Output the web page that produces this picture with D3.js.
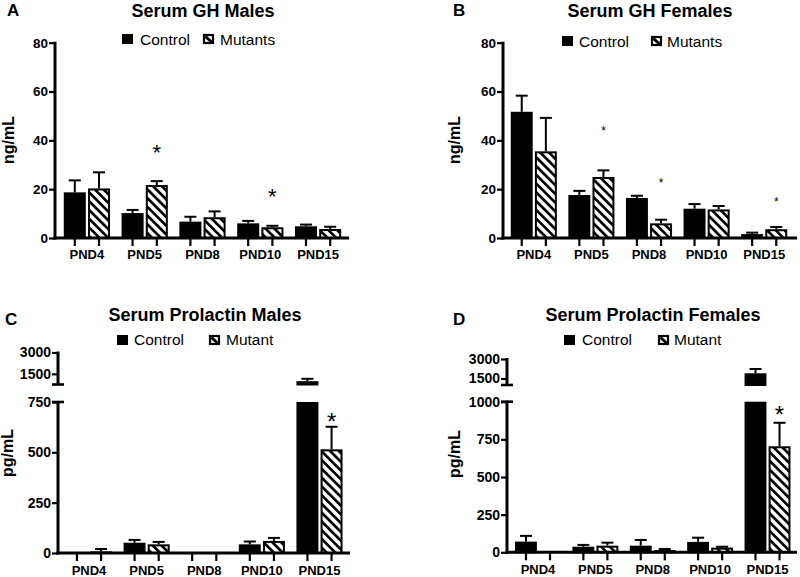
<!DOCTYPE html>
<html><head><meta charset="utf-8">
<script src="https://cdn.jsdelivr.net/npm/d3@7"></script>
<style>
body{margin:0;background:#fff}
svg{display:block}
text{font-family:"Liberation Sans",Arial,Helvetica,sans-serif;fill:#000}
</style>
</head><body>
<svg id="chart" width="800" height="577"></svg>
<script>
// ---------- data ----------
const groups = ["PND4", "PND5", "PND8", "PND10", "PND15"];

const ghMaleControl     = [18.7, 10.2, 6.7, 6.0, 4.8];
const ghMaleControlSEM  = [4.9, 1.3, 2.0, 1.0, 0.7];
const ghMaleMutant      = [20.3, 21.7, 8.5, 4.4, 3.7];
const ghMaleMutantSEM   = [6.6, 1.6, 2.4, 0.6, 0.9];

const ghFemaleControl    = [51.7, 17.6, 16.4, 12.0, 1.6];
const ghFemaleControlSEM = [6.6, 1.7, 0.9, 1.9, 0.6];
const ghFemaleMutant     = [35.5, 25.0, 6.0, 11.7, 3.6];
const ghFemaleMutantSEM  = [13.7, 2.7, 1.5, 1.4, 0.9];

const prlMaleControl     = [0, 51, 0, 43, 985];
const prlMaleControlSEM  = [0, 14, 0, 14, 165];
const prlMaleMutant      = [8, 43, 0, 60, 515];
const prlMaleMutantSEM   = [12, 12, 0, 15, 112];

const prlFemaleControl    = [71, 37, 44, 69, 1900];
const prlFemaleControlSEM = [38, 12, 38, 28, 330];
const prlFemaleMutant     = [0, 44, 15, 31, 704];
const prlFemaleMutantSEM  = [0, 20, 7, 6, 156];

const ghTicks = [0, 20, 40, 60, 80];
const prlMaleLowTicks = [0, 250, 500, 750];
const prlFemaleLowTicks = [0, 250, 500, 750, 1000];
const prlUpTicks = [1500, 3000];

const legendGH = ["Control", "Mutants"];
const legendPRL = ["Control", "Mutant"];

// significance markers: [group, height in data units]
const starsA = [["PND5", 37.3], ["PND10", 19.3]];
const starsB = [["PND5", 45], ["PND8", 23.8], ["PND15", 16]];
const starsC = [["PND15", 681]];
const starsD = [["PND15", 949]];

// ---------- drawing ----------
const svg = d3.select("#chart");
svg.append("rect").attr("width", 800).attr("height", 577).attr("fill", "#fff");
const defs = svg.append("defs");
defs.append("pattern").attr("id", "hatch")
  .attr("patternUnits", "userSpaceOnUse")
  .attr("width", 6.2).attr("height", 6.2)
  .attr("patternTransform", "rotate(-45)")
  .append("rect").attr("x", 0).attr("y", 0).attr("width", 2.7).attr("height", 6.2).attr("fill", "#000");

const panels = [
  { letter: "A", lx: 7, ly: 16, title: "Serum GH Males", tx: 203, ty: 16.5,
    axisX: 55, axisEnd: 349, band: [58, 347], y0: 238, lowTop: 42.7, lowDomain: [0, 80], lowTicks: ghTicks,
    tickFont: 13.5, ylabel: "ng/mL", ylx: 13.5, yly: 140, xLabelY: 259,
    legY: 34, legBase: 45, leg1: 122, leg1t: 140, leg2: 203, leg2t: 220, legText: legendGH,
    ctrl: ghMaleControl, ctrlE: ghMaleControlSEM, mut: ghMaleMutant, mutE: ghMaleMutantSEM,
    stars: starsA, starSize: 22 },
  { letter: "B", lx: 453, ly: 16, title: "Serum GH Females", tx: 650, ty: 17.3,
    axisX: 503, axisEnd: 797, band: [505, 793], y0: 238, lowTop: 42.7, lowDomain: [0, 80], lowTicks: ghTicks,
    tickFont: 13.5, ylabel: "ng/mL", ylx: 460, yly: 140, xLabelY: 259,
    legY: 36, legBase: 46.5, leg1: 562, leg1t: 579, leg2: 651, leg2t: 667, legText: legendGH,
    ctrl: ghFemaleControl, ctrlE: ghFemaleControlSEM, mut: ghFemaleMutant, mutE: ghFemaleMutantSEM,
    stars: starsB, starSize: 12 },
  { letter: "C", lx: 5, ly: 325, title: "Serum Prolactin Males", tx: 205, ty: 320.5,
    axisX: 58, axisEnd: 350, band: [60.2, 348.3], y0: 553, lowTop: 402, lowDomain: [0, 750], lowTicks: prlMaleLowTicks,
    upDomain: [750, 3000], upBottom: 384.5, upTop: 352.5, upTicks: prlUpTicks,
    tickFont: 14, ylabel: "pg/mL", ylx: 12.5, yly: 453, xLabelY: 574.5,
    legY: 335, legBase: 344.5, leg1: 117, leg1t: 134, leg2: 209, leg2t: 226, legText: legendPRL,
    ctrl: prlMaleControl, ctrlE: prlMaleControlSEM, mut: prlMaleMutant, mutE: prlMaleMutantSEM,
    stars: starsC, starSize: 24 },
  { letter: "D", lx: 453, ly: 325, title: "Serum Prolactin Females", tx: 653, ty: 320.5,
    axisX: 507, axisEnd: 797, band: [509.3, 796.2], y0: 552.3, lowTop: 401.7, lowDomain: [0, 1000], lowTicks: prlFemaleLowTicks,
    upDomain: [1000, 3000], upBottom: 385, upTop: 359, upTicks: prlUpTicks,
    tickFont: 14, ylabel: "pg/mL", ylx: 460, yly: 454, xLabelY: 574,
    legY: 335, legBase: 345, leg1: 564, leg1t: 582, leg2: 658, leg2t: 674, legText: legendPRL,
    ctrl: prlFemaleControl, ctrlE: prlFemaleControlSEM, mut: prlFemaleMutant, mutE: prlFemaleMutantSEM,
    stars: starsD, starSize: 24 }
];

function styleAxis(sel, font) {
  sel.select(".domain").remove();
  sel.selectAll(".tick line").attr("stroke", "#000").attr("stroke-width", 2.2);
  sel.selectAll(".tick text").attr("font-size", font).attr("font-weight", "bold").attr("fill", "#000");
}

panels.forEach(p => {
  const g = svg.append("g");
  const x0 = d3.scaleBand().domain(groups).range(p.band).paddingInner(0.2).paddingOuter(0.1);
  const x1 = d3.scaleBand().domain([0, 1]).range([0, x0.bandwidth()]).paddingInner(0.09);
  const yLow = d3.scaleLinear().domain(p.lowDomain).range([p.y0, p.lowTop]);
  const yUp = p.upDomain ? d3.scaleLinear().domain(p.upDomain).range([p.upBottom, p.upTop]) : null;

  // y axis (lower)
  const axL = g.append("g").attr("transform", `translate(${p.axisX},0)`)
    .call(d3.axisLeft(yLow).tickValues(p.lowTicks).tickSize(6).tickPadding(1).tickSizeOuter(0).tickFormat(d3.format("d")));
  styleAxis(axL, p.tickFont);
  g.append("line").attr("x1", p.axisX).attr("x2", p.axisX).attr("y1", p.y0 + 1.5).attr("y2", p.lowTop - 1)
    .attr("stroke", "#000").attr("stroke-width", 3);

  if (yUp) {
    const axU = g.append("g").attr("transform", `translate(${p.axisX},0)`)
      .call(d3.axisLeft(yUp).tickValues(p.upTicks).tickSize(6).tickPadding(1).tickSizeOuter(0).tickFormat(d3.format("d")));
    styleAxis(axU, p.tickFont);
    g.append("line").attr("x1", p.axisX).attr("x2", p.axisX).attr("y1", p.upBottom).attr("y2", p.upTop - 1)
      .attr("stroke", "#000").attr("stroke-width", 3);
    // break caps
    [p.lowTop, p.upBottom].forEach(yy => {
      g.append("line").attr("x1", p.axisX - 6).attr("x2", p.axisX + 6).attr("y1", yy).attr("y2", yy)
        .attr("stroke", "#000").attr("stroke-width", 2.6);
    });
  }

  // x axis line
  g.append("line").attr("x1", p.axisX - 1.5).attr("x2", p.axisEnd).attr("y1", p.y0).attr("y2", p.y0)
    .attr("stroke", "#000").attr("stroke-width", 3);

  // bars
  const series = [
    { vals: p.ctrl, errs: p.ctrlE, fill: "#000" },
    { vals: p.mut, errs: p.mutE, fill: "url(#hatch)" }
  ];
  series.forEach((s, si) => {
    groups.forEach((grp, i) => {
      const v = s.vals[i], e = s.errs[i];
      const bx = x0(grp) + x1(si);
      const bw = x1.bandwidth();
      const cx = bx + bw / 2;
      // x tick under each bar
      g.append("line").attr("x1", cx).attr("x2", cx).attr("y1", p.y0).attr("y2", p.y0 + 8)
        .attr("stroke", "#000").attr("stroke-width", 2.2);
      if (!(v > 0)) return;
      const rects = [];
      let yTopVal, yErr;
      if (yUp && v > p.lowDomain[1]) {
        rects.push([p.lowTop, p.y0]);
        rects.push([yUp(v), p.upBottom]);
        yTopVal = yUp(v); yErr = yUp(v + e);
      } else {
        rects.push([yLow(v), p.y0]);
        yTopVal = yLow(v); yErr = yLow(v + e);
      }
      // error bar
      if (e > 0) {
        g.append("line").attr("x1", cx).attr("x2", cx).attr("y1", yTopVal).attr("y2", yErr)
          .attr("stroke", "#000").attr("stroke-width", 2);
        g.append("line").attr("x1", cx - 6).attr("x2", cx + 6).attr("y1", yErr).attr("y2", yErr)
          .attr("stroke", "#000").attr("stroke-width", 2);
      }
      rects.forEach(([yt, yb]) => {
        g.append("rect").attr("x", bx + 1).attr("y", yt + 1).attr("width", bw - 2).attr("height", Math.max(0.5, yb - yt - 1))
          .attr("fill", s.fill).attr("stroke", "#000").attr("stroke-width", 2);
      });
    });
  });

  // x labels
  g.selectAll(".xl").data(groups).enter().append("text")
    .attr("x", d => x0(d) + x0.bandwidth() / 2).attr("y", p.xLabelY)
    .attr("text-anchor", "middle").attr("font-size", 13).attr("font-weight", "bold").text(d => d);

  // stars
  p.stars.forEach(([grp, h]) => {
    const cx = x0(grp) + x1(1) + x1.bandwidth() / 2;
    g.append("text").attr("x", cx).attr("y", yLow(h) + 0.58 * p.starSize)
      .attr("text-anchor", "middle").attr("font-size", p.starSize).text("*");
  });

  // y label
  g.append("text").attr("transform", `translate(${p.ylx},${p.yly}) rotate(-90)`)
    .attr("text-anchor", "middle").attr("font-size", 16).attr("font-weight", "bold").text(p.ylabel);

  // title and letter
  g.append("text").attr("x", p.tx).attr("y", p.ty).attr("text-anchor", "middle")
    .attr("font-size", 18).attr("font-weight", "bold").text(p.title);
  g.append("text").attr("x", p.lx).attr("y", p.ly).attr("font-size", 17).attr("font-weight", "bold").text(p.letter);

  // legend
  g.append("rect").attr("x", p.leg1).attr("y", p.legY).attr("width", 11).attr("height", 10).attr("fill", "#000");
  g.append("text").attr("x", p.leg1t).attr("y", p.legBase).attr("font-size", 15.5).text(p.legText[0]);
  g.append("rect").attr("x", p.leg2 + 1).attr("y", p.legY + 1).attr("width", 9).attr("height", 8)
    .attr("fill", "#fff").attr("stroke", "#000").attr("stroke-width", 2.2);
  g.append("line").attr("x1", p.leg2 + 2.5).attr("y1", p.legY + 2.5).attr("x2", p.leg2 + 8.5).attr("y2", p.legY + 8)
    .attr("stroke", "#000").attr("stroke-width", 3);
  g.append("text").attr("x", p.leg2t).attr("y", p.legBase).attr("font-size", 15.5).text(p.legText[1]);
});
</script>
</body></html>
